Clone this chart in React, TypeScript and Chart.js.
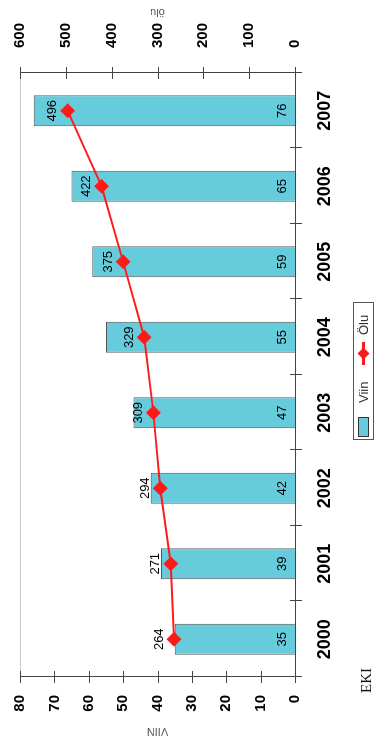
import React, { useEffect, useRef } from "react";
import { Chart, registerables } from "chart.js";

Chart.register(...registerables);

const years = ["2000", "2001", "2002", "2003", "2004", "2005", "2006", "2007"];
const viinValues = [35, 39, 42, 47, 55, 59, 65, 76];
const oluValues = [264, 271, 294, 309, 329, 375, 422, 496];
const leftTicks = [0, 10, 20, 30, 40, 50, 60, 70, 80];
const rightTicks = [0, 100, 200, 300, 400, 500, 600];
const viinLabel = "Viin";
const oluLabel = "Ölu";
const leftTitle = "VIIN";
const rightTitle = "ölu";
const cornerNote = "EKI";

const BAR_COLOR = "#66CCDC";
const LINE_COLOR = "#FF1A1A";
const AXIS_COLOR = "#444444";
const FONT = "Arial, 'Liberation Sans', sans-serif";

const decor = {
  id: "decor",
  afterDraw(chart: any) {
    const ctx = chart.ctx as CanvasRenderingContext2D;
    const area = chart.chartArea;
    const xs = chart.scales.x;
    const yl = chart.scales.y;
    const yr = chart.scales.y1;
    ctx.save();
    // top frame line
    ctx.strokeStyle = "#c8c8c8";
    ctx.lineWidth = 1;
    ctx.beginPath();
    ctx.moveTo(area.left, Math.round(area.top) + 0.5);
    ctx.lineTo(area.right, Math.round(area.top) + 0.5);
    ctx.stroke();

    ctx.strokeStyle = AXIS_COLOR;
    // category boundary ticks
    const n = years.length;
    for (let i = 0; i <= n; i++) {
      const px = Math.round(xs.left + (i * (xs.right - xs.left)) / n) + 0.5;
      ctx.beginPath();
      ctx.moveTo(px, area.bottom - 5);
      ctx.lineTo(px, area.bottom + 7);
      ctx.stroke();
    }
    // left ticks
    leftTicks.forEach((v) => {
      const py = Math.round(yl.getPixelForValue(v)) + 0.5;
      ctx.beginPath();
      ctx.moveTo(area.left - 6, py);
      ctx.lineTo(area.left + 6, py);
      ctx.stroke();
    });
    // right ticks
    rightTicks.forEach((v) => {
      const py = Math.round(yr.getPixelForValue(v)) + 0.5;
      ctx.beginPath();
      ctx.moveTo(area.right - 6, py);
      ctx.lineTo(area.right + 6, py);
      ctx.stroke();
    });

    // bar value labels
    ctx.fillStyle = "#000";
    ctx.font = `13px ${FONT}`;
    ctx.textAlign = "center";
    ctx.textBaseline = "middle";
    const barMeta = chart.getDatasetMeta(1);
    barMeta.data.forEach((el: any, i: number) => {
      ctx.fillText(String(viinValues[i]), el.x, area.bottom - 13);
    });
    // line value labels
    const lineMeta = chart.getDatasetMeta(0);
    lineMeta.data.forEach((el: any, i: number) => {
      ctx.fillText(String(oluValues[i]), el.x, el.y - 15);
    });

    // axis titles (rotated)
    ctx.fillStyle = "#555";
    ctx.font = `11px ${FONT}`;
    const cy = (area.top + area.bottom) / 2;
    ctx.save();
    ctx.translate(12, cy);
    ctx.rotate(-Math.PI / 2);
    ctx.fillText(leftTitle, 0, 0);
    ctx.restore();
    ctx.save();
    ctx.translate(731, cy);
    ctx.rotate(-Math.PI / 2);
    ctx.fillText(rightTitle, 0, 0);
    ctx.restore();

    // legend
    const lx = 303, ly = 353, lw = 137, lh = 20;
    ctx.strokeStyle = "#555";
    ctx.lineWidth = 1;
    ctx.strokeRect(lx + 0.5, ly + 0.5, lw, lh);
    ctx.fillStyle = BAR_COLOR;
    ctx.fillRect(306, 358, 19, 10);
    ctx.strokeStyle = "#333";
    ctx.strokeRect(306.5, 358.5, 19, 10);
    ctx.fillStyle = "#333";
    ctx.font = `13px ${FONT}`;
    ctx.textAlign = "left";
    ctx.fillText(viinLabel, 340, 364);
    ctx.strokeStyle = LINE_COLOR;
    ctx.lineWidth = 3;
    ctx.beginPath();
    ctx.moveTo(378, 363.5);
    ctx.lineTo(401, 363.5);
    ctx.stroke();
    ctx.fillStyle = LINE_COLOR;
    ctx.beginPath();
    ctx.moveTo(389.5, 357.5);
    ctx.lineTo(395.5, 363.5);
    ctx.lineTo(389.5, 369.5);
    ctx.lineTo(383.5, 363.5);
    ctx.closePath();
    ctx.fill();
    ctx.fillStyle = "#333";
    ctx.fillText(oluLabel, 408, 364);

    // corner note
    ctx.fillStyle = "#111";
    ctx.font = `15px 'Liberation Serif', 'DejaVu Serif', serif`;
    ctx.textAlign = "left";
    ctx.fillText(cornerNote, 50, 367);
    ctx.restore();
  },
};

export default function App() {
  const ref = useRef<HTMLCanvasElement | null>(null);
  useEffect(() => {
    if (!ref.current) return;
    const chart = new Chart(ref.current, {
      type: "bar",
      data: {
        labels: years,
        datasets: [
          {
            type: "line",
            label: oluLabel,
            data: oluValues,
            yAxisID: "y1",
            borderColor: LINE_COLOR,
            backgroundColor: LINE_COLOR,
            borderWidth: 2,
            pointStyle: "rectRot",
            pointRadius: 6,
            pointBackgroundColor: LINE_COLOR,
            pointBorderColor: LINE_COLOR,
            order: 0,
          } as any,
          {
            type: "bar",
            label: viinLabel,
            data: viinValues,
            yAxisID: "y",
            backgroundColor: BAR_COLOR,
            borderColor: "#555",
            borderWidth: 1,
            categoryPercentage: 1,
            barPercentage: 0.41,
            order: 1,
          } as any,
        ],
      },
      options: {
        responsive: false,
        animation: false,
        devicePixelRatio: 1,
        layout: { padding: { top: 20, left: 0, right: 0, bottom: 0 } },
        plugins: { legend: { display: false }, title: { display: false }, tooltip: { enabled: false } },
        scales: {
          x: {
            grid: { display: false, drawTicks: false },
            border: { display: true, color: AXIS_COLOR },
            ticks: { color: "#000", font: { family: FONT, size: 18, weight: "bold" }, padding: 19, maxRotation: 0 },
            afterFit(s: any) { s.height = 79; s.paddingLeft = 0; s.paddingRight = 0; },
          },
          y: {
            position: "left",
            min: 0,
            max: 80,
            grid: { display: false, drawTicks: false },
            border: { display: true, color: AXIS_COLOR },
            ticks: { stepSize: 10, color: "#000", font: { family: FONT, size: 15, weight: "bold" }, padding: 18 },
            afterFit(s: any) { s.width = 66; s.paddingTop = 0; s.paddingBottom = 0; },
          },
          y1: {
            position: "right",
            min: 0,
            max: 600,
            grid: { display: false, drawTicks: false },
            border: { display: true, color: AXIS_COLOR },
            ticks: { stepSize: 100, color: "#000", font: { family: FONT, size: 15, weight: "bold" }, padding: 25 },
            afterFit(s: any) { s.width = 73; s.paddingTop = 0; s.paddingBottom = 0; },
          },
        },
      } as any,
      plugins: [decor],
    });
    return () => chart.destroy();
  }, []);
  return (
    <div
      style={{
        position: "fixed",
        left: 0,
        top: 0,
        width: 743,
        height: 374,
        transformOrigin: "0 0",
        transform: "translate(0px, 743px) rotate(-90deg)",
        background: "#fff",
      }}
    >
      <canvas ref={ref} width={743} height={374} style={{ width: 743, height: 374, display: "block" }} />
    </div>
  );
}
